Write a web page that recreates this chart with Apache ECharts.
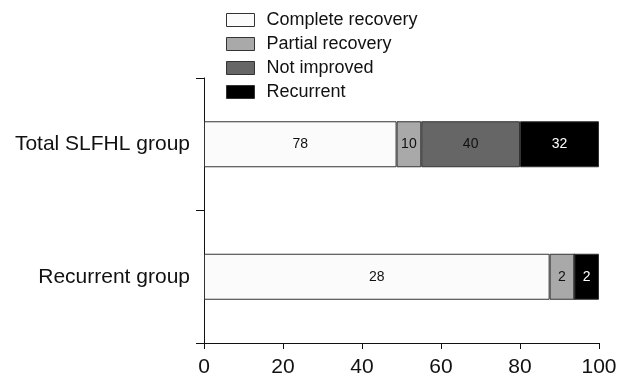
<!DOCTYPE html>
<html>
<head>
<meta charset="utf-8">
<script src="https://cdn.jsdelivr.net/npm/echarts@6/dist/echarts.min.js"></script>
<style>
  html, body { margin: 0; padding: 0; background: #fff; }
  #chart { width: 617px; height: 374px; }
</style>
</head>
<body>
<div id="chart"></div>
<script>
// Patient groups, listed bottom to top along the category axis
var groups = ['Recurrent group', 'Total SLFHL group'];
var outcomes = ['Complete recovery', 'Partial recovery', 'Not improved', 'Recurrent'];

// Patient counts per outcome, aligned with `groups`
var completeRecovery = [28, 78];
var partialRecovery = [2, 10];
var notImproved = [0, 40];
var recurrent = [2, 32];

var xTicks = [0, 20, 40, 60, 80, 100];

var fills = ['#fbfbfb', '#a9a9a9', '#666666', '#000000'];
var labelColors = ['#111', '#111', '#111', '#fff'];

var countsByOutcome = [completeRecovery, partialRecovery, notImproved, recurrent];
var totals = groups.map(function (_, i) {
  return countsByOutcome.reduce(function (s, arr) { return s + arr[i]; }, 0);
});

var series = outcomes.map(function (name, k) {
  return {
    name: name,
    type: 'bar',
    stack: 'share',
    barWidth: 46,
    itemStyle: { color: fills[k], borderColor: '#333', borderWidth: 1 },
    label: {
      show: true,
      position: 'inside',
      color: labelColors[k],
      fontFamily: 'Liberation Sans, Arial, sans-serif',
      fontSize: 14,
      formatter: function (p) { return p.data.count > 0 ? String(p.data.count) : ''; }
    },
    data: countsByOutcome[k].map(function (c, i) {
      return { value: c / totals[i] * 100, count: c };
    })
  };
});

var chart = echarts.init(document.getElementById('chart'), null, { renderer: 'canvas' });
chart.setOption({
  animation: false,
  backgroundColor: '#fff',
  textStyle: { fontFamily: 'Liberation Sans, Arial, sans-serif' },
  legend: {
    orient: 'vertical',
    left: 221,
    top: 6,
    itemWidth: 28,
    itemHeight: 13,
    itemGap: 6,
    icon: 'rect',
    selectedMode: false,
    itemStyle: { borderColor: '#333', borderWidth: 1 },
    textStyle: { fontSize: 18, lineHeight: 18, color: '#111', padding: [0, 0, 0, 7] },
    data: outcomes
  },
  grid: { left: 204, right: 18, top: 78, bottom: 31, containLabel: false, outerBoundsMode: 'none' },
  xAxis: {
    type: 'value',
    min: xTicks[0],
    max: xTicks[xTicks.length - 1],
    interval: xTicks[1] - xTicks[0],
    splitLine: { show: false },
    axisLine: { show: true, lineStyle: { color: '#111', width: 1 } },
    axisTick: { show: true, length: 6, lineStyle: { color: '#111' } },
    axisLabel: { fontSize: 21, color: '#111', margin: 14 }
  },
  yAxis: {
    type: 'category',
    data: groups,
    axisLine: { show: true, lineStyle: { color: '#111', width: 1 } },
    axisTick: { show: true, length: 8, lineStyle: { color: '#111' } },
    axisLabel: { fontSize: 21, color: '#111', margin: 14 }
  },
  series: series
});
</script>
</body>
</html>
